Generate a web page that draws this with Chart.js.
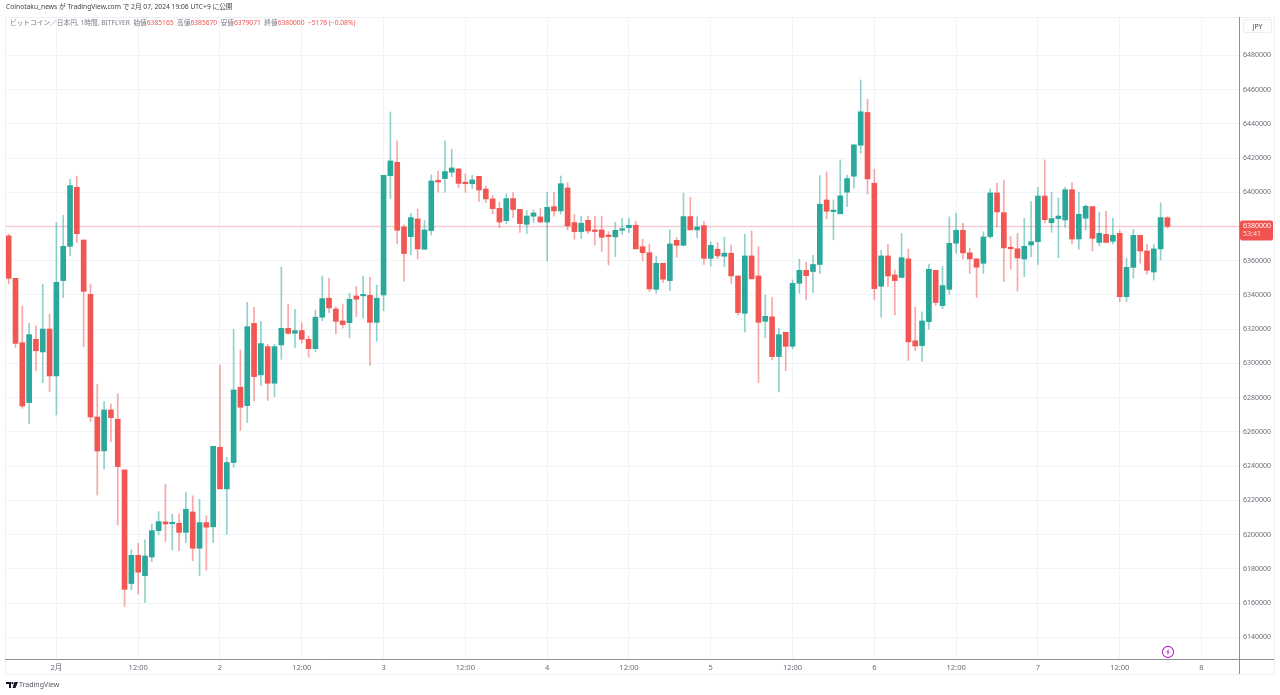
<!DOCTYPE html>
<html>
<head>
<meta charset="utf-8">
<script src="https://cdn.jsdelivr.net/npm/chart.js@4/dist/chart.umd.min.js"></script>
<style>
  html, body { margin: 0; padding: 0; background: #fff; overflow: hidden; }
  body { width: 1280px; height: 695px; position: relative; font-family: "Noto Sans", "Noto Sans CJK JP", sans-serif; }
  #wrap { position: absolute; left: 0; top: 0; width: 1280px; height: 695px; }
  .txt { position: absolute; white-space: nowrap; font-size: 6.7px; line-height: 10px; }
  #publish { left: 6px; top: 2px; color: #3c3f48; }
  #legend { left: 10px; top: 18px; color: #787b86; }
  #legend b { font-weight: normal; color: #ef5350; }
  #logo { left: 19px; top: 680px; font-size: 7px; color: #555a66; }
  #jpy { left: 1243px; top: 19px; width: 29px; height: 14px; line-height: 14px; text-align: center; border: 1px solid #eceef3; border-radius: 2px; color: #444; box-sizing: border-box; }
  svg { position: absolute; }
  #logoMark { left: 6px; top: 682px; }
  #bolt { left: 1161px; top: 645px; }
</style>
</head>
<body>
<div id="wrap"><canvas id="myChart" width="1280" height="695"></canvas></div>
<div class="txt" id="publish">Coinotaku_news が TradingView.com で 2月 07, 2024 19:06 UTC+9 に公開</div>
<div class="txt" id="legend">ビットコイン／日本円, 1時間, BITFLYER&nbsp; 始値<b>6385165</b>&nbsp; 高値<b>6385670</b>&nbsp; 安値<b>6379071</b>&nbsp; 終値<b>6380000</b>&nbsp; <b>−5176 (−0.08%)</b></div>
<div class="txt" id="jpy">JPY</div>
<svg id="bolt" width="14" height="14" viewBox="0 0 14 14"><circle cx="7" cy="7" r="5.6" fill="#fff" stroke="#b52fc9" stroke-width="1.1"/><path d="M8 3.6L5.2 7.6H7L6 10.4L8.8 6.4H7z" fill="#b52fc9"/></svg>
<svg id="logoMark" width="12" height="7" viewBox="0 0 12 7"><path d="M0 0h5v6H3V2H0zM6.5 6L8.5 0H12L9.5 6z" fill="#131722"/><circle cx="6.5" cy="1.2" r="1.1" fill="#131722"/></svg>
<div class="txt" id="logo">TradingView</div>
<script>
// hours counted from 2月1日 00:00, first candle is 7 hours before that
const firstHour = -7;

// prices in thousand yen
const opens = [6374.5,6349.7,6312.1,6277.1,6314.1,6306.7,6320.1,
  6292.7,6348.4,6368.4,6402.9,6372.1,6340.4,6268.7,6248.9,6272.8,6267.4,6237.8,6171.4,6187.9,6176,6186.9,6202.3,6207.4,6206.3,
  6206.6,6201.3,6213.2,6192,6207,6204.5,6251,6226.7,6242.1,6286.1,6275.3,6323.4,6293.3,6309.8,6288.4,6310.8,6320.5,6317.6,6319.2,
  6314.1,6308.6,6327,6338.1,6331.8,6324.8,6323.8,6339.4,6339.5,6339.8,6324,6340,6409.7,6417.5,6379.7,6374.1,6384.4,6366.7,6377.6,
  6407,6408,6411.7,6413.6,6405.2,6405,6409.3,6401.9,6396.1,6390.6,6383.4,6396.3,6390,6381.3,6386,6385.6,6382.6,6391.6,6389.1,6402.5,
  6382.3,6377,6383.6,6377.4,6378,6374.9,6373.9,6377.8,6379.3,6380.7,6368.2,6364.7,6343.3,6358.5,6348.4,6371.9,6369,6385.8,6378,
  6380.5,6361.4,6366.7,6362.6,6364.4,6351.1,6329.3,6362.8,6351.1,6324.6,6327.2,6304,6318.2,6310,6346.8,6354.4,6353.7,6357.8,6395.5,
  6388.7,6387.4,6400,6409.4,6427.5,6446.6,6405.3,6345.1,6362.8,6351.7,6350.2,6361.1,6313.2,6310.4,6324.4,6354.4,6333.8,6343.3,6370.2,
  6377.8,6364.6,6361.1,6358.5,6374.1,6399.6,6388.1,6367.2,6367,6361,6369.2,6371.1,6397.8,6382.2,6384.6,6383.8,6401.5,6372.7,6384.8,
  6391.6,6370.7,6375.4,6371.3,6376,6339,6356.1,6374.8,6365.7,6353.4,6366.9,6385.165];

const closes = [6349.7,6311.7,6275.1,6316.8,6307.4,6320.1,6292.7,
  6347.4,6368.4,6403.9,6375.8,6342.1,6268.7,6248.8,6272.8,6268.3,6239.7,6168,6187.9,6178,6187.5,6202.3,6207.6,6206.2,6206.6,
  6201.3,6214.8,6192,6207,6204.3,6251.6,6226.7,6242.1,6284.5,6274.4,6321.5,6292.3,6311.6,6288.4,6309.8,6320.5,6317.6,6319.2,6314.1,
  6308.6,6327,6337.9,6332.4,6324.6,6322.7,6337.5,6337.5,6339.8,6324,6338.1,6409.9,6418.3,6377.8,6364.2,6385.2,6366.9,6378,6406.6,
  6406,6412.1,6414.2,6405.2,6405,6407.2,6401.3,6396.1,6390.4,6382.6,6396.3,6389.9,6381.7,6386.1,6387.9,6382.6,6391.2,6389.1,6405,6380.3,
  6377,6381.9,6377.4,6377.1,6373.7,6374.1,6377.8,6378.2,6380.7,6366.9,6364.7,6343.5,6358.5,6349.2,6369.8,6369,6385.8,6378,6379.7,
  6361.4,6369,6362.8,6364.4,6351.1,6329.7,6362.8,6349.4,6324,6327.5,6304,6316.8,6310,6346.8,6354.4,6351.3,6357.8,6393,6388.9,
  6389.5,6397.9,6408,6427.7,6447,6407.8,6343.7,6362.8,6351.1,6348.4,6361.8,6312.6,6310.2,6324.8,6355,6335.6,6345.5,6370.2,6377.8,
  6364.6,6361.1,6356.2,6373.9,6399.6,6388.5,6367.5,6367,6361.6,6368.4,6371.1,6397.8,6384,6384.6,6386.1,6401.5,6372.7,6387.1,6391.8,
  6373.1,6376,6370.7,6374.8,6339,6356.1,6374.8,6365.7,6354.4,6366.9,6385.2,6380];

const highs = [6375.6,6349.7,6333.5,6323.4,6321.9,6346.2,6328.9,
  6382.3,6386.5,6407.6,6409.5,6372.1,6346.4,6287.8,6277.7,6276.3,6282.2,6237.8,6191,6194.9,6196.9,6206.2,6213.4,6229.4,6211.9,
  6211.9,6224.7,6222.6,6220.6,6211.1,6251.6,6299.1,6245.2,6319.9,6307.9,6335.7,6332.8,6324.6,6311.2,6311.2,6356.2,6334.6,6331.6,6323.8,
  6316,6331.2,6351.1,6349.9,6333.2,6334.7,6341,6344.9,6351.1,6350.3,6345.7,6409.9,6446.9,6430,6380.9,6387.7,6390.1,6383.4,6410.1,
  6412.4,6430,6425.1,6414,6410.7,6409.9,6409.3,6403.7,6398,6394.1,6399,6399.8,6390,6389.3,6389.7,6390.6,6400,6400,6409.5,6405.6,
  6386.9,6386.1,6386.1,6386.1,6386.1,6377,6382.5,6384.8,6384.8,6382.9,6372.5,6369.8,6362.8,6358.5,6378,6373.5,6399.4,6397.1,6385.8,
  6383,6371,6370.6,6373.7,6369.2,6351.1,6375.5,6377.4,6368.2,6340,6338.6,6320.5,6318.2,6348.8,6360.8,6359.1,6363.2,6409.8,6411.9,
  6395.5,6418.9,6410.1,6427.7,6465.6,6454.4,6413.5,6366.1,6369.6,6354.6,6376,6366.7,6332.8,6330.1,6358.1,6354.4,6356.6,6385.6,6387.7,
  6381.9,6367.3,6361.1,6377,6402,6405.3,6407,6374.1,6376,6384.8,6394.5,6402.9,6418.9,6400,6396.5,6402.9,6405.6,6400,6392.6,
  6391.6,6388.5,6388.9,6384.8,6378,6361.4,6378.3,6374.8,6369.6,6369.6,6393.9,6385.67];

const lows = [6346.4,6309.4,6273.8,6264.6,6295.8,6288.8,6283.5,
  6269.9,6338.4,6362.8,6370.6,6309.8,6265.9,6223.1,6238.4,6254.3,6205.6,6157.9,6167.7,6165.3,6160.3,6184.2,6199.8,6195.9,6191,
  6190.4,6195.3,6184.8,6176,6179.3,6195.3,6226.7,6200.2,6239.3,6260.9,6265.4,6278.1,6287.2,6278.3,6280.6,6302.4,6317,6309.4,6311.8,
  6303.6,6306.7,6325,6329.7,6317.2,6320.7,6314.9,6327.3,6326.6,6298.9,6312.9,6330.8,6396.3,6369.8,6348,6363.4,6361,6366.7,6375,
  6400,6400,6409.1,6402.7,6400,6402.1,6394.7,6393.9,6387.3,6379.3,6381.7,6385.2,6376.6,6375.8,6382.3,6382.6,6360,6386.1,6387.3,6378,
  6372.7,6372.9,6376,6369.2,6365.3,6357.5,6362.4,6375.3,6376.4,6366.9,6359.9,6342,6341,6347.2,6342.5,6362,6369,6378,6373.5,
  6357.9,6356.9,6361.2,6356.6,6346.8,6328.3,6318.4,6349.4,6288.8,6315.1,6302,6283.3,6295.8,6308.6,6341,6337.1,6341.4,6352.5,6384.4,
  6372.2,6387.4,6391.6,6402.4,6422.8,6399,6337.1,6327,6344.9,6328.3,6350.2,6301.7,6307.5,6301.1,6320,6334,6332,6340.4,6364.4,
  6361.1,6352.5,6338.5,6352.5,6373.1,6379.8,6347.8,6355,6342.3,6350.7,6362.4,6357.9,6382.2,6376.6,6361.8,6379.5,6369.8,6366.7,6378,
  6365.7,6368.6,6370.7,6369.6,6336.1,6336.1,6349.9,6358.5,6352.2,6348.7,6360.4,6379.071];

const priceTicks = [6140,6160,6180,6200,6220,6240,6260,6280,6300,6320,6340,6360,6380,6400,6420,6440,6460,6480];
const timeTicks = [0,12,24,36,48,60,72,84,96,108,120,132,144,156,168];
const timeLabels = ['2月','12:00','2','12:00','3','12:00','4','12:00','5','12:00','6','12:00','7','12:00','8'];
const lastPrice = 6380;
const lastPriceText = '6380000';
const countdownText = '53:41';

const xMin = -7.54, xMax = 173.5;
const yMin = 6127.3, yMax = 6502.4;

const red = '#f25652', green = '#2aa89c';
const redWick = 'rgba(240,82,79,0.5)', greenWick = 'rgba(38,166,154,0.5)';
const tickColor = '#6a6d78';

const isUp = opens.map((o, i) => closes[i] >= o);

const drawFrame = {
  id: 'drawFrame',
  afterDraw(chart) {
    const c = chart.ctx, a = chart.chartArea;
    c.save();
    // outer pale box
    c.strokeStyle = '#eef0f5';
    c.lineWidth = 1;
    c.strokeRect(5.5, a.top + 0.5, 1274 - 5, 674 - a.top);
    // axis lines
    c.strokeStyle = '#8d8f97';
    c.beginPath();
    c.moveTo(5, a.bottom + 0.5); c.lineTo(1274, a.bottom + 0.5);
    c.moveTo(a.right + 0.5, a.top); c.lineTo(a.right + 0.5, 674);
    c.stroke();
    // price tag on the right axis
    const y = chart.scales.y.getPixelForValue(lastPrice);
    c.fillStyle = '#f0524f';
    c.beginPath();
    c.roundRect(a.right + 1, y - 6, 33, 20, 2);
    c.fill();
    c.fillStyle = '#fff';
    c.font = '7px "Noto Sans"';
    c.textBaseline = 'middle';
    c.fillText(lastPriceText, a.right + 4, y);
    c.fillStyle = 'rgba(255,255,255,0.8)';
    c.fillText(countdownText, a.right + 4, y + 8);
    c.restore();
  }
};

new Chart(document.getElementById('myChart'), {
  data: {
    datasets: [
      {
        type: 'line',
        data: [{ x: xMin, y: lastPrice }, { x: xMax, y: lastPrice }],
        borderColor: 'rgba(240,90,100,0.25)',
        borderWidth: 1.5,
        pointRadius: 0,
        order: 3
      },
      {
        type: 'bar',
        data: lows.map((l, i) => ({ x: firstHour + i, y: [l, highs[i]] })),
        backgroundColor: isUp.map(u => u ? greenWick : redWick),
        barThickness: 1,
        grouped: false,
        order: 2
      },
      {
        type: 'bar',
        data: opens.map((o, i) => ({ x: firstHour + i, y: [o, closes[i]] })),
        backgroundColor: isUp.map(u => u ? green : red),
        barThickness: 5,
        minBarLength: 1.5,
        grouped: false,
        order: 1
      }
    ]
  },
  options: {
    responsive: false,
    animation: false,
    layout: { padding: { left: 5, top: 17, right: 6, bottom: 21 } },
    plugins: { legend: { display: false }, tooltip: { enabled: false } },
    scales: {
      x: {
        type: 'linear',
        offset: false,
        min: xMin,
        max: xMax,
        afterBuildTicks: s => { s.ticks = timeTicks.map(v => ({ value: v })); },
        afterFit: s => { s.height = 15; },
        grid: { color: '#f0f3f8', drawTicks: false, offset: false },
        border: { display: false },
        ticks: {
          autoSkip: false,
          maxRotation: 0,
          padding: 4,
          color: tickColor,
          font: { size: 7.5, family: '"Noto Sans", "Noto Sans CJK JP"' },
          callback: v => timeLabels[timeTicks.indexOf(v)]
        }
      },
      y: {
        position: 'right',
        min: yMin,
        max: yMax,
        afterBuildTicks: s => { s.ticks = priceTicks.map(v => ({ value: v })); },
        afterFit: s => { s.width = 35; },
        grid: { color: '#f0f3f8', drawTicks: false },
        border: { display: false },
        ticks: {
          padding: 4,
          color: tickColor,
          font: { size: 7, family: '"Noto Sans"' },
          callback: v => String(Math.round(v * 1000))
        }
      }
    }
  },
  plugins: [drawFrame]
});
</script>
</body>
</html>
